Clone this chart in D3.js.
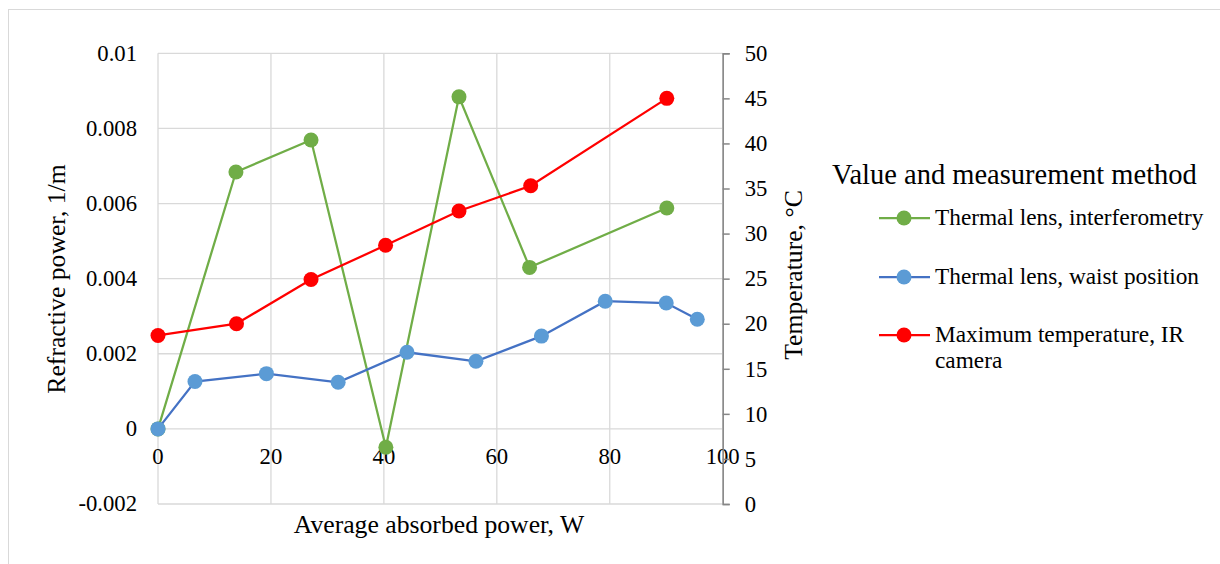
<!DOCTYPE html>
<html>
<head>
<meta charset="utf-8">
<script src="https://cdn.jsdelivr.net/npm/d3@7"></script>
<style>
  body { margin: 0; background: #fff; }
  text { font-family: "Liberation Serif", "Times New Roman", serif; fill: #000; }
</style>
</head>
<body>
<script>
// data
var interfX = [0, 13.8, 27.1, 40.35, 53.3, 65.8, 90.1];
var interfY = [0, 0.00684, 0.00769, -0.00049, 0.00884, 0.0043, 0.00588];

var waistX = [0, 6.55, 19.2, 31.9, 44.1, 56.3, 67.9, 79.2, 90.0, 95.5];
var waistY = [0, 0.00126, 0.00147, 0.00124, 0.00204, 0.0018, 0.00247, 0.0034, 0.00335, 0.00292];

var tempX = [0, 13.9, 27.1, 40.3, 53.3, 66, 90.1];
var tempY = [18.7, 20.0, 24.9, 28.7, 32.5, 35.3, 45.0];

var xTicks = [0, 20, 40, 60, 80, 100];
var leftTicks = [-0.002, 0, 0.002, 0.004, 0.006, 0.008, 0.01];
var rightTicks = [0, 5, 10, 15, 20, 25, 30, 35, 40, 45, 50];

var legendNames = ["Thermal lens, interferometry", "Thermal lens, waist position", "Maximum temperature, IR"];

var width = 1220,
    height = 564;

var svg = d3.select("body").append("svg")
    .attr("width", width)
    .attr("height", height)
    .style("display", "block");

// chart border (right/bottom run off the page)
svg.append("rect")
    .attr("x", 8.5)
    .attr("y", 9.5)
    .attr("width", 1300)
    .attr("height", 700)
    .attr("fill", "none")
    .attr("stroke", "#d9d9d9");

var x = d3.scaleLinear().domain([0, 100]).range([158, 722.7]);
var yL = d3.scaleLinear().domain([-0.002, 0.01]).range([504, 53.3]);
var yR = d3.scaleLinear().domain([0, 50]).range([504, 53.3]);

var fs = 22.7,     // tick labels
    fsLeg = 23.3,  // legend entries
    fsTitle = 25.7,
    fsLegTitle = 28.5;

// gridlines
svg.append("g").selectAll("line")
    .data(leftTicks)
    .enter().append("line")
    .attr("x1", x(0)).attr("x2", x(100))
    .attr("y1", function(d) { return yL(d); })
    .attr("y2", function(d) { return yL(d); })
    .attr("stroke", "#d9d9d9")
    .attr("stroke-width", 1.3);

svg.append("g").selectAll("line")
    .data(xTicks)
    .enter().append("line")
    .attr("x1", function(d) { return x(d); })
    .attr("x2", function(d) { return x(d); })
    .attr("y1", yL(-0.002)).attr("y2", yL(0.01))
    .attr("stroke", "#d9d9d9")
    .attr("stroke-width", 1.3);

// left tick labels
svg.append("g").selectAll("text")
    .data(leftTicks)
    .enter().append("text")
    .attr("x", 137)
    .attr("y", function(d) { return yL(d); })
    .attr("dy", "0.33em")
    .attr("text-anchor", "end")
    .style("font-size", fs + "px")
    .text(function(d) { return d; });

// x tick labels (at the zero line)
svg.append("g").selectAll("text")
    .data(xTicks)
    .enter().append("text")
    .attr("x", function(d) { return x(d); })
    .attr("y", yL(0) + 35.5)
    .attr("text-anchor", "middle")
    .style("font-size", fs + "px")
    .text(function(d) { return d; });

// right axis
var rAxis = d3.axisRight(yR)
    .tickValues(rightTicks)
    .tickSize(7)
    .tickPadding(15)
    .tickFormat(d3.format("d"));

var gR = svg.append("g")
    .attr("transform", "translate(" + x(100) + ",0)")
    .call(rAxis);
gR.select(".domain").attr("stroke", "#868686").attr("stroke-width", 1.5);
gR.selectAll(".tick line").attr("stroke", "#868686").attr("stroke-width", 1.5);
gR.selectAll(".tick text")
    .style("font-size", fs + "px")
    .style("font-family", '"Liberation Serif", "Times New Roman", serif')
    .attr("fill", "#000");

// axis titles
svg.append("text")
    .attr("transform", "translate(65,279) rotate(-90)")
    .attr("text-anchor", "middle")
    .style("font-size", fsTitle + "px")
    .text("Refractive power, 1/m");

svg.append("text")
    .attr("transform", "translate(802,275) rotate(-90)")
    .attr("text-anchor", "middle")
    .style("font-size", fsTitle + "px")
    .text("Temperature, \u00B0C");

svg.append("text")
    .attr("x", 439)
    .attr("y", 533)
    .attr("text-anchor", "middle")
    .style("font-size", fsTitle + "px")
    .text("Average absorbed power, W");

// series
var series = [
    { xs: interfX, ys: interfY, y: yL, line: "#70ad47", dot: "#70ad47" },
    { xs: waistX, ys: waistY, y: yL, line: "#4472c4", dot: "#5b9bd5" },
    { xs: tempX, ys: tempY, y: yR, line: "#ff0000", dot: "#ff0000" }
];

series.forEach(function(s) {
    var pts = s.xs.map(function(v, i) { return [v, s.ys[i]]; });
    var line = d3.line()
        .x(function(d) { return x(d[0]); })
        .y(function(d) { return s.y(d[1]); });
    svg.append("path")
        .datum(pts)
        .attr("fill", "none")
        .attr("stroke", s.line)
        .attr("stroke-width", 2.25)
        .attr("d", line);
    svg.append("g").selectAll("circle")
        .data(pts)
        .enter().append("circle")
        .attr("cx", function(d) { return x(d[0]); })
        .attr("cy", function(d) { return s.y(d[1]); })
        .attr("r", 7.5)
        .attr("fill", s.dot);
});

// legend
svg.append("text")
    .attr("x", 832)
    .attr("y", 184)
    .style("font-size", fsLegTitle + "px")
    .text("Value and measurement method");

var legY = [218, 277, 335];
var leg = svg.append("g").selectAll("g")
    .data(series)
    .enter().append("g")
    .attr("transform", function(d, i) { return "translate(0," + legY[i] + ")"; });

leg.append("line")
    .attr("x1", 879).attr("x2", 930)
    .attr("stroke", function(d) { return d.line; })
    .attr("stroke-width", 2.25);
leg.append("circle")
    .attr("cx", 904)
    .attr("r", 7.5)
    .attr("fill", function(d) { return d.dot; });
leg.append("text")
    .attr("x", 935)
    .attr("y", 7)
    .style("font-size", fsLeg + "px")
    .text(function(d, i) { return legendNames[i]; });

svg.append("text")
    .attr("x", 935)
    .attr("y", 368)
    .style("font-size", fsLeg + "px")
    .text("camera");
</script>
</body>
</html>
